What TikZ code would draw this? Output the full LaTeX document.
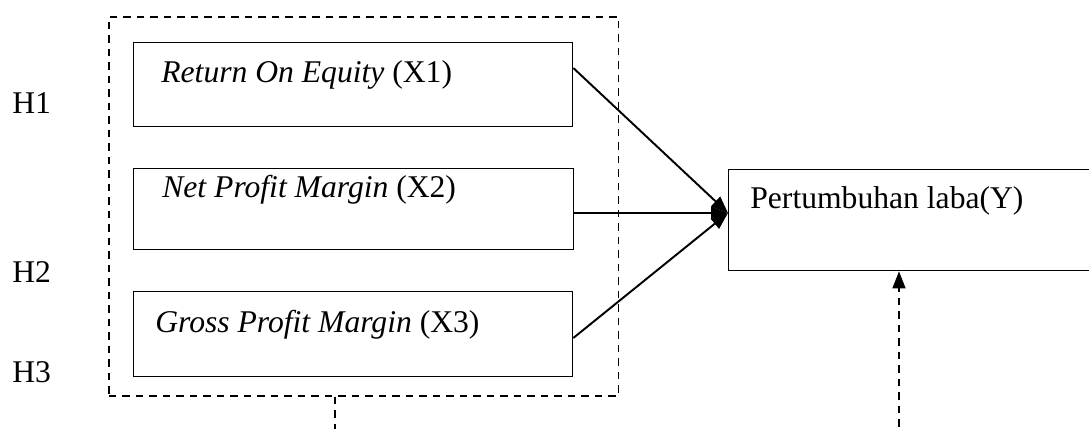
\documentclass[tikz,border=0pt]{standalone}
\usepackage{fontspec}
\setmainfont{Liberation Serif}
\usetikzlibrary{arrows.meta,positioning,calc}

\begin{document}
\begin{tikzpicture}[x=0.02cm,y=-0.02cm,>={Triangle[length=0.34cm,width=0.26cm]},font=\fontsize{18}{21}\selectfont]
  \tikzstyle{box}=[draw,line width=0.8pt,anchor=north west,inner sep=0pt]
  \tikzstyle{txt}=[anchor=base west,inner sep=0pt]
  \tikzstyle{dashline}=[line width=0.9pt,dash pattern=on 0.15cm off 0.12cm]
  \tikzstyle{link}=[line width=1.1pt,->]
  \clip (0,0) rectangle (1089,429);
  % variabel bebas dalam kotak putus-putus
  \node[box,dashline,minimum width=10.2cm,minimum height=7.58cm] (frame) at (108,16) {};
  \node[box,minimum width=8.78cm,minimum height=1.68cm] (roe) at (133,42) {};
  \node[box,minimum width=8.8cm,minimum height=1.62cm] (npm) at (133,168) {};
  \node[box,minimum width=8.78cm,minimum height=1.7cm] (gpm) at (133,291) {};
  \node[box,minimum width=7.4cm,minimum height=2.02cm] (laba) at (728,169) {};
  \node[txt] (roetxt) at ($(roe.north west)+(28,41)$) {\textit{Return On Equity} (X1)};
  \node[txt] (npmtxt) at ($(npm.north west)+(29,29)$) {\textit{Net Profit Margin} (X2)};
  \node[txt] (gpmtxt) at ($(gpm.north west)+(22,41)$) {\textit{Gross Profit Margin} (X3)};
  \node[txt] (labatxt) at ($(laba.north west)+(22,40)$) {Pertumbuhan laba(Y)};
  % hipotesis
  \node[txt] (h1) at (12,113) {H1};
  \node[txt] (h2) at (12,282) {H2};
  \node[txt] (h3) at (12,382) {H3};
  % panah ke Y
  \coordinate (hit) at ($(laba.north west)+(0,44)$);
  \draw[link] ($(roe.north east)+(0,26)$) -- (hit);
  \draw[link] (npm.east |- hit) -- (hit);
  \draw[link] ($(gpm.north east)+(0,47)$) -- (hit);
  % garis putus-putus bawah
  \coordinate (drop) at (335,440);
  \coordinate (rise) at (899,440);
  \draw[dashline] (frame.south -| drop) -- (drop);
  \draw[dashline,->] (rise) -- (laba.south -| rise);
\end{tikzpicture}
\end{document}
